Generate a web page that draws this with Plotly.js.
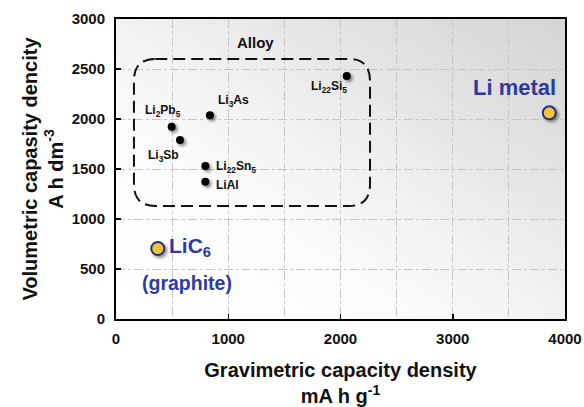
<!DOCTYPE html>
<html><head><meta charset="utf-8">
<script src="https://cdn.plot.ly/plotly-3.0.1.min.js"></script>
<style>
body{margin:0;background:#fff;}
#wrap{position:relative;width:584px;height:407px;background:#fff;overflow:hidden;}
#bg{position:absolute;left:116px;top:19px;width:449px;height:300px;background:linear-gradient(to top right,#ffffff 0%,#fcfcfc 30%,#f1f1f1 52%,#e2e2e2 75%,#d4d4d4 100%);}
#chart{position:absolute;left:0;top:0;width:584px;height:407px;}
</style></head><body>
<div id="wrap"><div id="bg"></div><div id="chart"></div></div>
<script>
// Alloy anode materials
var alloyNames = ["Li<sub>22</sub>Si<sub>5</sub>","Li<sub>3</sub>As","Li<sub>2</sub>Pb<sub>5</sub>","Li<sub>3</sub>Sb","Li<sub>22</sub>Sn<sub>5</sub>","LiAl"];
var alloyGrav  = [2055, 837, 496, 570, 796, 796];
var alloyVol   = [2430, 2037, 1923, 1790, 1530, 1373];
// Reference electrodes
var refNames = ["Li metal", "LiC<sub>6</sub>"];
var refGrav  = [3860, 372];
var refVol   = [2062, 705];
// Alloy region box (data units)
var boxX = [160, 2263];
var boxY = [1130, 2600];
var boxLabel = "Alloy";
var boxLabelPos = [1239, 2770];

var alloyLabelStyle = [
  {xanchor:"right", xshift:2, yshift:-11},
  {xanchor:"left", xshift:6, yshift:14},
  {xanchor:"center", xshift:-9, yshift:16},
  {xanchor:"right", xshift:1, yshift:-16},
  {xanchor:"left", xshift:9, yshift:-1},
  {xanchor:"left", xshift:9, yshift:-3}
];
var blue = "#2e3a9f";
var fam = "Arial, Liberation Sans";
var annotations = [];
for (var i=0;i<alloyNames.length;i++){
  var s = alloyLabelStyle[i];
  annotations.push({x:alloyGrav[i], y:alloyVol[i], xref:"x", yref:"y", text:alloyNames[i], showarrow:false,
    xanchor:s.xanchor, yanchor:"middle", xshift:s.xshift, yshift:s.yshift,
    font:{family:fam, size:12, color:"#111", weight:"bold"}});
}
annotations.push({x:refGrav[0], y:refVol[0], xref:"x", yref:"y", text:refNames[0], showarrow:false,
  xanchor:"right", yanchor:"middle", xshift:9, yshift:25,
  font:{family:fam, size:22, color:blue, weight:"bold"}});
annotations.push({x:refGrav[1], y:refVol[1], xref:"x", yref:"y", text:refNames[1], showarrow:false,
  xanchor:"left", yanchor:"middle", xshift:9, yshift:2,
  font:{family:fam, size:21, color:blue, weight:"bold"}});
annotations.push({x:refGrav[1], y:refVol[1], xref:"x", yref:"y", text:"(graphite)", showarrow:false,
  xanchor:"left", yanchor:"middle", xshift:-18, yshift:-34,
  font:{family:fam, size:19.5, color:blue, weight:"bold"}});
annotations.push({x:boxLabelPos[0], y:boxLabelPos[1], xref:"x", yref:"y", text:boxLabel, showarrow:false,
  xanchor:"center", yanchor:"middle",
  font:{family:fam, size:15, color:"#111", weight:"bold"}});

var rx = 190, ry = 220;
var x0=boxX[0], x1=boxX[1], y0=boxY[0], y1=boxY[1];
var boxPath = "M "+(x0+rx)+","+y1+" L "+(x1-rx)+","+y1+" Q "+x1+","+y1+" "+x1+","+(y1-ry)+
  " L "+x1+","+(y0+ry)+" Q "+x1+","+y0+" "+(x1-rx)+","+y0+" L "+(x0+rx)+","+y0+
  " Q "+x0+","+y0+" "+x0+","+(y0+ry)+" L "+x0+","+(y1-ry)+" Q "+x0+","+y1+" "+(x0+rx)+","+y1+" Z";

var traces = [
  {type:"scatter", mode:"markers", x:alloyGrav, y:alloyVol, hoverinfo:"skip",
   marker:{size:8, color:"#000", line:{width:0}}},
  {type:"scatter", mode:"markers", x:refGrav, y:refVol, hoverinfo:"skip",
   marker:{size:13, color:"#f6c33e", line:{width:2, color:"#252f86"}}}
];

var tickFont = {family:fam, size:15, color:"#111", weight:"bold"};
var titleFont = {family:fam, size:20, color:"#111", weight:"bold"};
var gridC = "#c6c6c6";
var layout = {
  width:584, height:407, showlegend:false,
  margin:{l:116, r:19, t:19, b:88},
  paper_bgcolor:"rgba(0,0,0,0)", plot_bgcolor:"rgba(0,0,0,0)",
  xaxis:{range:[0,4000], dtick:1000, tick0:0, ticks:"inside", ticklen:5, tickwidth:1.5, tickcolor:"#000",
    showline:true, mirror:true, linecolor:"#000", linewidth:2, zeroline:false,
    showgrid:true, gridcolor:gridC, gridwidth:1, griddash:"dashdot",
    minor:{dtick:500, showgrid:true, gridcolor:gridC, gridwidth:1, griddash:"dashdot"},
    tickfont:tickFont, ticklabelstandoff:5, automargin:false,
    title:{text:"Gravimetric capacity density<br>mA h g<sup>-1</sup>", font:titleFont, standoff:21}},
  yaxis:{range:[0,3000], dtick:500, tick0:0, ticks:"inside", ticklen:5, tickwidth:1.5, tickcolor:"#000",
    showline:true, mirror:true, linecolor:"#000", linewidth:2, zeroline:false,
    showgrid:true, gridcolor:gridC, gridwidth:1, griddash:"dashdot",
    tickfont:tickFont, ticklabelstandoff:6, automargin:false,
    title:{text:"Volumetric capasity dencity<br>A h dm<sup>-3</sup>", font:titleFont, standoff:3}},
  shapes:[{type:"path", path:boxPath, xref:"x", yref:"y", line:{color:"#111", width:2, dash:"12px,6px"}, fillcolor:"rgba(0,0,0,0)"}],
  annotations:annotations
};
Plotly.newPlot("chart", traces, layout, {staticPlot:true, displayModeBar:false}).then(function(){
  document.querySelectorAll(".scatterlayer path.point").forEach(function(p){
    p.style.filter = "drop-shadow(2px 2px 1.5px rgba(0,0,0,0.45))";
  });
});
</script>
</body></html>
